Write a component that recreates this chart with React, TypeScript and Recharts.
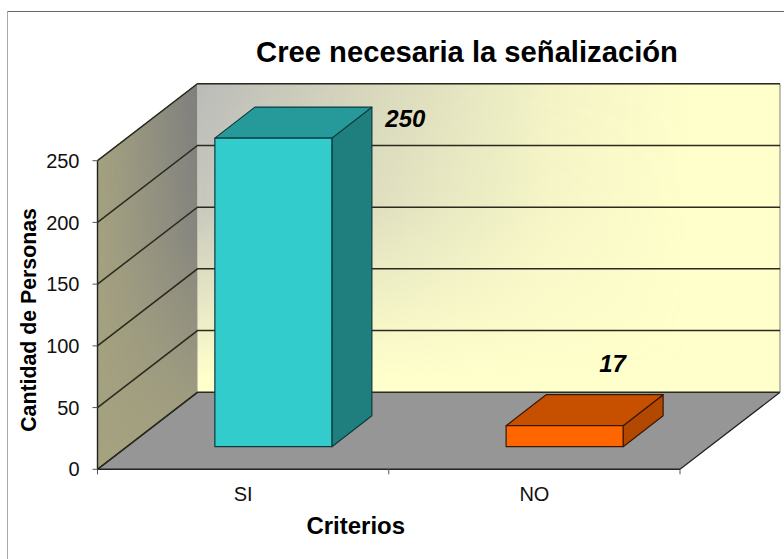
import React from "react";
import { BarChart, Bar, XAxis, YAxis, CartesianGrid, LabelList } from "recharts";

const categories = ["SI", "NO"];
const personas = [250, 17];
const yTicks = [0, 50, 100, 150, 200, 250];
const chartTitle = "Cree necesaria la señalización";
const xAxisTitle = "Criterios";
const yAxisTitle = "Cantidad de Personas";

const tableData = categories.map((c, i) => ({ criterio: c, personas: personas[i] }));

const FONT = "'Liberation Sans', Arial, sans-serif";
const DEPTH = { x: 100, y: 77 };
const BAR_SHIFT = { x: 30, y: 22.6 };
const BAR_DEPTH = { x: 40, y: 31 };
const FACES = [
  { front: "#33CCCC", side: "#1F7F7F", top: "#269A9A", line: "#0E3A3E" },
  { front: "#FF6600", side: "#B34800", top: "#C65000", line: "#3A1800" },
];
const LABEL_NUDGE = [
  { x: 132, y: -20 },
  { x: 48, y: -62 },
];

const Walls = ({ left, right, top, bottom }: { left: number; right: number; top: number; bottom: number }) => {
  const bl = left + DEPTH.x;
  const br = right + DEPTH.x;
  const bt = top - DEPTH.y;
  const bb = bottom - DEPTH.y;
  return (
    <g>
      <defs>
        <linearGradient id="backX" x1="0" x2="1" y1="0" y2="0">
          <stop offset="0" stopColor="#BABABA" stopOpacity="1" />
          <stop offset="0.3" stopColor="#BFBFB4" stopOpacity="0.62" />
          <stop offset="0.6" stopColor="#C0C0B0" stopOpacity="0.2" />
          <stop offset="0.85" stopColor="#C0C0B0" stopOpacity="0" />
        </linearGradient>
        <linearGradient id="maskY" x1="0" x2="0" y1="0" y2="1">
          <stop offset="0" stopColor="#fff" />
          <stop offset="0.4" stopColor="#ccc" />
          <stop offset="0.95" stopColor="#000" />
        </linearGradient>
        <mask id="backMask" maskUnits="userSpaceOnUse" x={bl} y={bt} width={br - bl} height={bb - bt}>
          <rect x={bl} y={bt} width={br - bl} height={bb - bt} fill="url(#maskY)" />
        </mask>
        <linearGradient id="sideX" x1="0" x2="1" y1="0" y2="0">
          <stop offset="0" stopColor="#808080" stopOpacity="0" />
          <stop offset="1" stopColor="#7E7E7E" stopOpacity="1" />
        </linearGradient>
        <mask id="sideMask" maskUnits="userSpaceOnUse" x={left} y={bt} width={DEPTH.x} height={bottom - bt}>
          <rect x={left} y={bt} width={DEPTH.x} height={bottom - bt} fill="url(#maskY)" />
        </mask>
      </defs>
      <rect x={bl} y={bt} width={br - bl} height={bb - bt} fill="#FFFFCC" />
      <rect x={bl} y={bt} width={br - bl} height={bb - bt} fill="url(#backX)" mask="url(#backMask)" />
      <path d={`M${bl} ${bt}H${br}V${bb}`} fill="none" stroke="#808070" strokeWidth={1} />
      <polygon points={`${left},${top} ${bl},${bt} ${bl},${bb} ${left},${bottom}`} fill="#A5A280" />
      <polygon points={`${left},${top} ${bl},${bt} ${bl},${bb} ${left},${bottom}`} fill="url(#sideX)" mask="url(#sideMask)" />
      <path d={`M${left} ${top}L${bl} ${bt}`} stroke="#777770" strokeWidth={1} fill="none" />
      <polygon points={`${left},${bottom} ${bl},${bb} ${br},${bb} ${right},${bottom}`} fill="#969696" />
      <path d={`M${left} ${bottom}L${bl} ${bb}M${right} ${bottom}L${br} ${bb}`} stroke="#222" strokeWidth={1.2} fill="none" />
    </g>
  );
};

const GridStroke = (p: any) => {
  const { x1, x2, y1, index } = p;
  return (
    <path
      key={`s${index}`}
      d={`M${x1} ${y1}L${x1 + DEPTH.x} ${y1 - DEPTH.y}H${x2 + DEPTH.x}`}
      fill="none"
      stroke="#2a2a1e"
      strokeWidth={1.5}
    />
  );
};

const Box = (p: any) => {
  const { x, y, width, height, index } = p;
  const c = FACES[index];
  const fx = x + BAR_SHIFT.x;
  const fy = y - BAR_SHIFT.y;
  const fb = fy + height;
  const dx = BAR_DEPTH.x;
  const dy = BAR_DEPTH.y;
  return (
    <g stroke={c.line} strokeWidth={1.2} strokeLinejoin="round">
      <polygon points={`${fx + width},${fy} ${fx + width + dx},${fy - dy} ${fx + width + dx},${fb - dy} ${fx + width},${fb}`} fill={c.side} />
      <polygon points={`${fx},${fy} ${fx + dx},${fy - dy} ${fx + width + dx},${fy - dy} ${fx + width},${fy}`} fill={c.top} />
      <rect x={fx} y={fy} width={width} height={height} fill={c.front} />
    </g>
  );
};

const ValueLabel = (p: any) => {
  const { x, y, width, value, index } = p;
  const n = LABEL_NUDGE[index];
  return (
    <text
      x={x + width / 2 + BAR_SHIFT.x + n.x}
      y={y - BAR_SHIFT.y + n.y}
      textAnchor="middle"
      dominantBaseline="central"
      fontFamily={FONT}
      fontWeight="bold"
      fontStyle="italic"
      fontSize={24}
      fill="#000"
    >
      {value}
    </text>
  );
};

const CategoryTick = (p: any) => {
  const { x, payload, width, index } = p;
  const axisY = 469.3;
  const band = width / categories.length;
  const isLast = index === categories.length - 1;
  return (
    <g>
      <path d={`M${x - band / 2} ${axisY}v5${isLast ? `M${x + band / 2} ${axisY}v5` : ""}`} stroke="#555" strokeWidth={1} />
      <text x={x} y={axisY + 25} textAnchor="middle" dominantBaseline="central" fontFamily={FONT} fontSize={20} fill="#111">
        {payload.value}
      </text>
    </g>
  );
};

export default function App() {
  return (
    <div style={{ position: "absolute", left: 0, top: 0, width: 784, height: 559, background: "#fff" }}>
      <BarChart
        width={784}
        height={559}
        data={tableData}
        margin={{ top: 160.7, right: 104, bottom: 0, left: 0 }}
        barCategoryGap="30%"
      >
        <CartesianGrid
          vertical={false}
          horizontal={(p: any) => (
            <g key={`h${p.index}`}>
              {p.index === 0 ? <Walls left={p.x1} right={p.x2} top={160.7} bottom={469.3} /> : null}
              <GridStroke {...p} />
            </g>
          )}
        />
        <XAxis
          dataKey="criterio"
          height={89.7}
          axisLine={{ stroke: "#222", strokeWidth: 1.4 }}
          tickLine={false}
          tick={CategoryTick}
          interval={0}
          label={{ value: xAxisTitle, position: "center", dx: -33, dy: 11, style: { fontFamily: FONT, fontWeight: "bold", fontSize: 24, fill: "#000" } }}
        />
        <YAxis
          width={97.5}
          domain={[0, 250]}
          ticks={yTicks}
          interval={0}
          axisLine={{ stroke: "#222", strokeWidth: 1.4 }}
          tickLine={{ stroke: "#555" }}
          tickSize={5}
          tickMargin={13}
          tick={{ fontFamily: FONT, fontSize: 20, fill: "#111" }}
          label={{ value: yAxisTitle, angle: -90, position: "center", dx: -20, dy: 5, style: { fontFamily: FONT, fontWeight: "bold", fontSize: 21.3, fill: "#000" } }}
        />
        <Bar dataKey="personas" isAnimationActive={false} shape={Box}>
          <LabelList dataKey="personas" content={ValueLabel} />
        </Bar>
        <path d="M7.5 559V11.5" fill="none" stroke="#AAAAAA" strokeWidth={1} />
        <path d="M7.5 11.5H784" fill="none" stroke="#666666" strokeWidth={1} />
        <text x={467} y={52} textAnchor="middle" dominantBaseline="central" fontFamily={FONT} fontWeight="bold" fontSize={29.2} fill="#000">
          {chartTitle}
        </text>
      </BarChart>
    </div>
  );
}
